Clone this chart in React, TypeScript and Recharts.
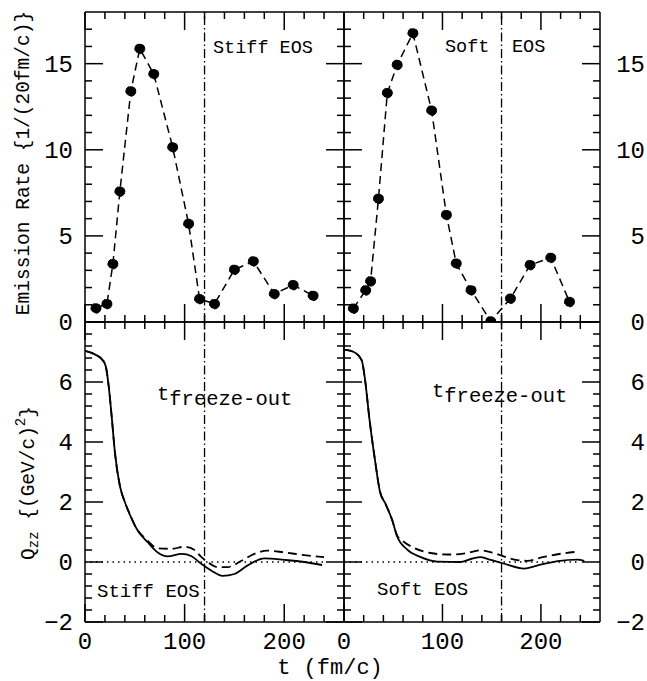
import React from 'react';
import { LineChart, Line, XAxis, YAxis, ReferenceLine } from 'recharts';

const W = 647;
const H = 681;
const FONT = '"Liberation Mono", "Courier New", monospace';

// time ticks (fm/c), majors every 100
const tTicks = [0, 20, 40, 60, 80, 100, 120, 140, 160, 180, 200, 220, 240];
const rateTicks = [0, 1, 2, 3, 4, 5, 6, 7, 8, 9, 10, 11, 12, 13, 14, 15, 16, 17];
const qTicks = [-2, -1.6, -1.2, -0.8, -0.4, 0, 0.4, 0.8, 1.2, 1.6, 2, 2.4, 2.8, 3.2, 3.6, 4, 4.4, 4.8, 5.2, 5.6, 6, 6.4, 6.8, 7.2, 7.6];
const tLabels = [0, 100, 200];
const rateLabels = [0, 5, 10, 15];
const qLabels = [-2, 0, 2, 4, 6];

// emission rate, stiff EOS
const stiffRateT = [11, 22, 28, 35, 46, 55, 69, 88, 104, 115, 130, 150, 169, 190, 209, 229];
const stiffRate = [0.8, 1.05, 3.37, 7.58, 13.4, 15.87, 14.4, 10.15, 5.7, 1.34, 1.05, 3.04, 3.53, 1.63, 2.15, 1.53];
// emission rate, soft EOS
const softRateT = [9.5, 22, 27, 35, 44, 54, 70, 89, 104, 114, 129, 149, 169, 189, 210, 229];
const softRate = [0.78, 1.84, 2.37, 7.16, 13.3, 14.93, 16.77, 12.28, 6.22, 3.4, 1.85, 0.04, 1.36, 3.31, 3.73, 1.17];

// Qzz, stiff EOS
const stiffQT = [0, 10, 18, 21, 24, 27, 30, 35, 40, 47, 53, 63, 73, 83, 97, 107, 117, 127, 138, 150, 163, 180, 200, 220, 238];
const stiffQ = [7.04, 6.92, 6.72, 6.5, 5.8, 4.77, 3.66, 2.54, 2.0, 1.43, 1.04, 0.66, 0.32, 0.19, 0.27, 0.19, -0.07, -0.29, -0.46, -0.4, -0.12, 0.12, 0.07, 0.0, -0.1];
const stiffQdT = [0, 10, 18, 21, 24, 27, 30, 35, 40, 45, 50, 62, 73, 87, 100, 110, 117, 123, 133, 143, 157, 170, 183, 200, 220, 240];
const stiffQd = [7.04, 6.92, 6.72, 6.5, 5.8, 4.77, 3.66, 2.54, 2.0, 1.6, 1.22, 0.74, 0.46, 0.44, 0.51, 0.4, 0.16, 0.0, -0.17, -0.17, 0.04, 0.27, 0.38, 0.32, 0.23, 0.16];

// Qzz, soft EOS
const softQT = [0, 10, 18, 21, 26, 31.5, 36.5, 42, 49, 54, 64, 78, 95, 118, 129, 139, 149, 162, 183, 196, 217, 237, 244];
const softQ = [7.08, 7.0, 6.72, 6.17, 4.72, 3.39, 2.35, 1.95, 1.39, 0.85, 0.42, 0.16, 0.01, 0.0, 0.1, 0.16, 0.07, -0.05, -0.22, -0.12, 0.03, 0.08, 0.04];
const softQdT = [0, 10, 18, 21, 26, 31.5, 36.5, 42, 49, 54, 59, 71, 88, 104, 112, 125, 138, 152, 162, 176, 186, 203, 223, 236];
const softQd = [7.08, 7.0, 6.72, 6.17, 4.72, 3.39, 2.35, 1.95, 1.39, 0.88, 0.72, 0.47, 0.3, 0.25, 0.25, 0.3, 0.39, 0.3, 0.19, 0.06, 0.04, 0.17, 0.29, 0.34];

const zip = (ts: number[], vs: number[]) => ts.map((t, i) => ({ t, v: vs[i] }));

const isInt = (v: number) => Math.abs(v - Math.round(v)) < 1e-6;

const tickRenderer =
  (side: string, isMajor: (v: number) => boolean, labels: number[] | null) =>
  (props: any) => {
    const { x, y, payload } = props;
    const v = payload.value;
    const len = isMajor(v) ? 18 : 7;
    let x2 = x;
    let y2 = y;
    let tx = x;
    let ty = y;
    let anchor = 'middle';
    if (side === 'bottom') { y2 = y - len; ty = y + 27; }
    if (side === 'top') { y2 = y + len; }
    if (side === 'left') { x2 = x + len; tx = x - 12; ty = y + 8; anchor = 'end'; }
    if (side === 'right') { x2 = x - len; tx = x + 45; ty = y + 8; anchor = 'end'; }
    const lab = labels && labels.some((l) => Math.abs(l - v) < 1e-6);
    return (
      <g>
        <line x1={x} y1={y} x2={x2} y2={y2} stroke="#000" strokeWidth={1.5} />
        {lab && (
          <text x={tx} y={ty} textAnchor={anchor} fontFamily={FONT} fontSize={24} fill="#000">
            {v < 0 ? '\u2212' + Math.abs(v) : v}
          </text>
        )}
      </g>
    );
  };

const tMajor = (v: number) => v % 100 === 0;
const rateMajor = (v: number) => v % 5 === 0;
const qMajor = (v: number) => isInt(v) && Math.round(v) % 2 === 0;

const axisLine = { stroke: '#000', strokeWidth: 1.5 };

// margins are the plot rectangle minus the 1px the axes take
function Panel(props: {
  plot: { left: number; right: number; top: number; bottom: number };
  yDomain: number[];
  yTicks: number[];
  yMajor: (v: number) => boolean;
  leftLabels: number[] | null;
  rightLabels: number[] | null;
  bottomLabels: number[] | null;
  freeze: number;
  children: any;
}) {
  const { plot, yDomain, yTicks, yMajor, leftLabels, rightLabels, bottomLabels, freeze } = props;
  const margin = { left: plot.left - 1, top: plot.top - 1, right: W - plot.right - 1, bottom: H - plot.bottom - 1 };
  return (
    <div style={{ position: 'absolute', left: 0, top: 0 }}>
      <LineChart width={W} height={H} margin={margin}>
        <XAxis xAxisId="b" type="number" dataKey="t" domain={[0, 260]} ticks={tTicks} interval={0}
          orientation="bottom" height={1} tickSize={0} tickMargin={0} axisLine={axisLine} tickLine={false}
          tick={tickRenderer('bottom', tMajor, bottomLabels)} allowDataOverflow />
        <XAxis xAxisId="t" type="number" dataKey="t" domain={[0, 260]} ticks={tTicks} interval={0}
          orientation="top" height={1} tickSize={0} tickMargin={0} axisLine={axisLine} tickLine={false}
          tick={tickRenderer('top', tMajor, null)} allowDataOverflow />
        <YAxis yAxisId="l" type="number" domain={yDomain} ticks={yTicks} interval={0}
          orientation="left" width={1} tickSize={0} tickMargin={0} axisLine={axisLine} tickLine={false}
          tick={tickRenderer('left', yMajor, leftLabels)} allowDataOverflow />
        <YAxis yAxisId="r" type="number" domain={yDomain} ticks={yTicks} interval={0}
          orientation="right" width={1} tickSize={0} tickMargin={0} axisLine={axisLine} tickLine={false}
          tick={tickRenderer('right', yMajor, rightLabels)} allowDataOverflow />
        <ReferenceLine xAxisId="b" yAxisId="l" x={freeze} stroke="#000" strokeWidth={1.3}
          strokeDasharray="9 3 1.5 3" />
        {props.children}
      </LineChart>
    </div>
  );
}

const rateLine = (data: any[]) => (
  <Line xAxisId="b" yAxisId="l" data={data} dataKey="v" type="linear" stroke="#000" strokeWidth={1.5}
    strokeDasharray="8 5" dot={{ r: 5, fill: '#000', stroke: '#000', strokeWidth: 1 }}
    isAnimationActive={false} />
);

const qLines = (solid: any[], dashed: any[]) => [
  <ReferenceLine key="z" xAxisId="b" yAxisId="l" segment={[{ x: 0, y: 0 }, { x: 240, y: 0 }]}
    stroke="#000" strokeWidth={1.3} strokeDasharray="1.5 4" />,
  <Line key="d" xAxisId="b" yAxisId="l" data={dashed} dataKey="v" type="monotone" stroke="#000"
    strokeWidth={1.8} strokeDasharray="9 5" dot={false} isAnimationActive={false} />,
  <Line key="s" xAxisId="b" yAxisId="l" data={solid} dataKey="v" type="monotone" stroke="#000"
    strokeWidth={1.8} dot={false} isAnimationActive={false} />,
];

const txt = { fontFamily: FONT, fill: '#000' };

export default function App() {
  return (
    <div style={{ position: 'absolute', left: 0, top: 0, width: W, height: H, background: '#fff' }}>
      <Panel plot={{ left: 85, right: 344, top: 12, bottom: 322 }} yDomain={[0, 18]} yTicks={rateTicks}
        yMajor={rateMajor} leftLabels={rateLabels} rightLabels={null} bottomLabels={null} freeze={120}>
        {rateLine(zip(stiffRateT, stiffRate))}
      </Panel>
      <Panel plot={{ left: 344, right: 600, top: 12, bottom: 322 }} yDomain={[0, 18]} yTicks={rateTicks}
        yMajor={rateMajor} leftLabels={null} rightLabels={rateLabels} bottomLabels={null} freeze={160}>
        {rateLine(zip(softRateT, softRate))}
      </Panel>
      <Panel plot={{ left: 85, right: 344, top: 322, bottom: 622 }} yDomain={[-2, 8]} yTicks={qTicks}
        yMajor={qMajor} leftLabels={qLabels} rightLabels={null} bottomLabels={tLabels} freeze={120}>
        {qLines(zip(stiffQT, stiffQ), zip(stiffQdT, stiffQd))}
      </Panel>
      <Panel plot={{ left: 344, right: 600, top: 322, bottom: 622 }} yDomain={[-2, 8]} yTicks={qTicks}
        yMajor={qMajor} leftLabels={null} rightLabels={qLabels} bottomLabels={tLabels} freeze={160}>
        {qLines(zip(softQT, softQ), zip(softQdT, softQd))}
      </Panel>
      <svg width={W} height={H} style={{ position: 'absolute', left: 0, top: 0, pointerEvents: 'none' }}>
        <text {...txt} fontSize={19.5} textAnchor="middle" dominantBaseline="central"
          transform="translate(24,163) rotate(-90)">Emission Rate {'{'}1/(20fm/c){'}'}</text>
        <text {...txt} fontSize={19.5} textAnchor="middle" dominantBaseline="central"
          transform="translate(29,483) rotate(-90)">
          Q<tspan fontSize={14} dy={5}>zz</tspan>
          <tspan dy={-5}> {'{'}(GeV/c)</tspan>
          <tspan fontSize={14} dy={-8}>2</tspan>
          <tspan dy={8}>{'}'}</tspan>
        </text>
        <text {...txt} fontSize={22} textAnchor="middle" x={330} y={674}>t (fm/c)</text>
        <text {...txt} fontSize={18.5} x={213} y={53}>Stiff EOS</text>
        <text {...txt} fontSize={18.5} x={445} y={52}>Soft</text>
        <text {...txt} fontSize={18.5} x={512} y={52}>EOS</text>
        <text {...txt} fontSize={19} x={97} y={597}>Stiff EOS</text>
        <text {...txt} fontSize={19} x={377} y={595}>Soft EOS</text>
        <text {...txt} fontSize={20.5} x={157} y={400}>t<tspan dy={5}>freeze-out</tspan></text>
        <text {...txt} fontSize={20.5} x={432} y={397}>t<tspan dy={5}>freeze-out</tspan></text>
      </svg>
    </div>
  );
}
